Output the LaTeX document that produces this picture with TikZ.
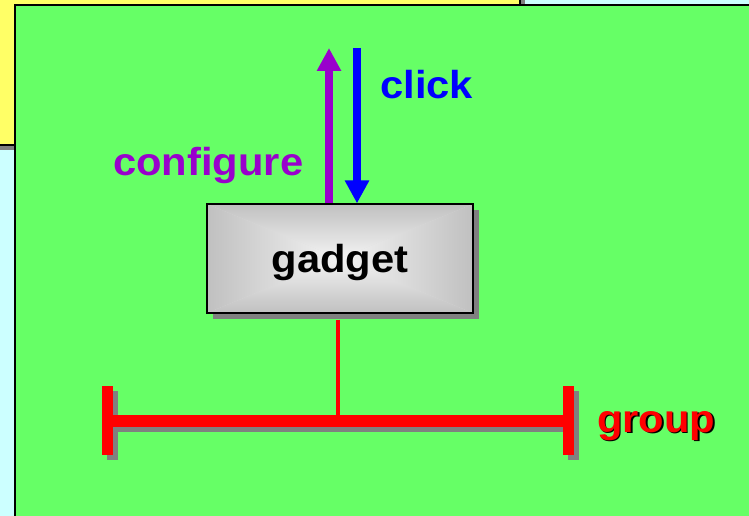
\documentclass[tikz,border=0pt]{standalone}
\usepackage{fontspec}
\newfontfamily\lblfont[FakeStretch=1.07]{Liberation Sans}
\usetikzlibrary{arrows.meta,shadows}
\definecolor{bggreen}{HTML}{66FF66}
\definecolor{bgyellow}{HTML}{FFFF66}
\definecolor{bgcyan}{HTML}{CCFFFF}
\definecolor{shadowgray}{HTML}{808080}
\definecolor{cfgpurple}{HTML}{9900CC}
\definecolor{clickblue}{HTML}{0000FF}
\definecolor{boxedge}{HTML}{C0C0C0}
\definecolor{boxmid}{HTML}{F4F4F4}
\begin{document}
\begin{tikzpicture}[x=1pt,y=-1pt,
  lbl/.style={font=\lblfont\bfseries\fontsize{39}{40}\selectfont, inner sep=0pt},
  sigarrow/.style={line width=8pt, -{Triangle[width=23pt,length=23pt]}},
  barpart/.style={fill=red},
  barshadow/.style={fill=shadowgray}]
\useasboundingbox (0,0) rectangle (749,516);
% background panels
\fill[bgcyan] (0,0) rectangle (749,516);
\fill[shadowgray] (-5,-5) rectangle (525,150);
\filldraw[fill=bgyellow, draw=black, line width=1.5pt] (-5,-5) rectangle (520,145);
\filldraw[fill=bggreen, draw=black, line width=1.5pt] (15,5) rectangle (760,530);
% group bar
\fill[barshadow] (107,391) rectangle (118,460);
\fill[barshadow] (118,420) rectangle (568,432);
\fill[barshadow] (568,391) rectangle (579,460);
\fill[barpart] (102,386) rectangle (113,455);
\fill[barpart] (113,415) rectangle (565,427);
\fill[barpart] (563,386) rectangle (574,455);
\coordinate (barmid) at (337.5,415);
% gadget box
\node[draw, fill=boxedge!40!boxmid, line width=1.2pt, minimum width=266pt, minimum height=109pt,
      inner sep=0pt, text depth=0pt,
      drop shadow={shadow xshift=6pt, shadow yshift=-6pt, fill=shadowgray, opacity=1},
      path picture={
        \coordinate (nw) at (path picture bounding box.north west);
        \coordinate (ne) at (path picture bounding box.north east);
        \coordinate (sw) at (path picture bounding box.south west);
        \coordinate (se) at (path picture bounding box.south east);
        \coordinate (cc) at (path picture bounding box.center);
        \shade[top color=boxedge, bottom color=boxmid] (nw) -- (ne) -- (cc) -- cycle;
        \shade[top color=boxmid, bottom color=boxedge] (sw) -- (se) -- (cc) -- cycle;
        \shade[left color=boxedge, right color=boxmid] (nw) -- (sw) -- (cc) -- cycle;
        \shade[left color=boxmid, right color=boxedge] (ne) -- (se) -- (cc) -- cycle;
      },
      lbl] (gadget) at (340,258.5) {gadget};
\draw[red, line width=4pt] ([yshift=-6pt]gadget.south -| barmid) -- (barmid);
% signals
\coordinate (cfgtip) at (329,48);
\coordinate (clicktail) at (357,48);
\draw[sigarrow, cfgpurple] (gadget.north -| cfgtip) -- (cfgtip);
\draw[sigarrow, clickblue] (clicktail) -- (gadget.north -| clicktail);
% labels
\node[lbl, text=cfgpurple, anchor=base west] (configure) at (113,175) {configure};
\node[lbl, text=clickblue, anchor=base west] (click) at (380,99) {click};
\node[lbl, text=red, anchor=base west] (group) at (597,432)
  {\rlap{\raisebox{-1.5pt}{\kern1.5pt\color{black}group}}group};
\end{tikzpicture}
\end{document}
